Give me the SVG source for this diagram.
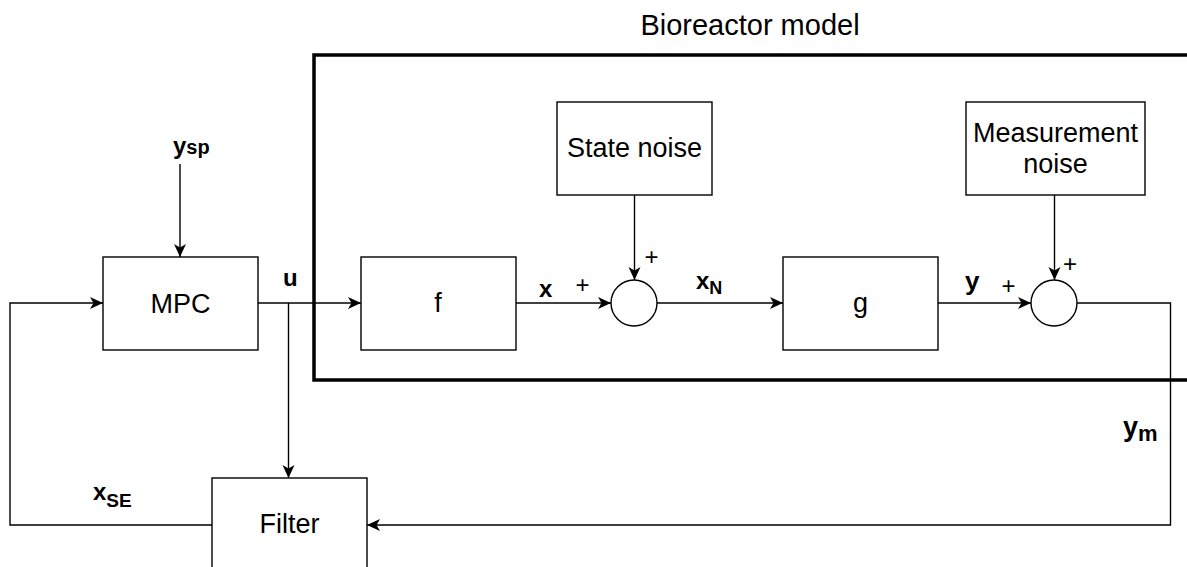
<svg xmlns="http://www.w3.org/2000/svg" width="1187" height="567" viewBox="0 0 1187 567">
<style>
.box{fill:#fff;stroke:#000;stroke-width:1.4}
.ln{fill:none;stroke:#000;stroke-width:1.4}
.lab{font-family:"Liberation Sans",Arial,sans-serif;font-size:27px;fill:#000;text-anchor:middle}
.b{font-family:"Liberation Sans",Arial,sans-serif;font-weight:bold;fill:#000}
.pl{font-family:"Liberation Sans",Arial,sans-serif;font-size:24px;fill:#000;text-anchor:middle}
</style>
<defs>
<marker id="arr" markerWidth="14" markerHeight="14" viewBox="-14 -7 14 14" refX="0" refY="0" orient="auto" markerUnits="userSpaceOnUse">
<path d="M0,0 L-13,-6 L-9.5,0 L-13,6 Z" fill="#000"/>
</marker>
</defs>
<rect width="1187" height="567" fill="#fff"/>
<g id="bioreactor">
<rect x="314" y="55" width="900" height="325" fill="none" stroke="#000" stroke-width="3.5"/>
<text class="lab" x="750" y="35" style="font-size:29px">Bioreactor model</text>
</g>
<g id="connectors">
<line class="ln" x1="180" y1="164" x2="180" y2="257" marker-end="url(#arr)"/>
<line class="ln" x1="258" y1="303" x2="361" y2="303" marker-end="url(#arr)"/>
<line class="ln" x1="288.5" y1="303" x2="288.5" y2="478" marker-end="url(#arr)"/>
<line class="ln" x1="515" y1="303" x2="611" y2="303" marker-end="url(#arr)"/>
<line class="ln" x1="634.5" y1="195" x2="634.5" y2="280" marker-end="url(#arr)"/>
<line class="ln" x1="657" y1="303" x2="783" y2="303" marker-end="url(#arr)"/>
<line class="ln" x1="938" y1="303" x2="1031" y2="303" marker-end="url(#arr)"/>
<line class="ln" x1="1054.5" y1="195" x2="1054.5" y2="280" marker-end="url(#arr)"/>
<polyline class="ln" points="1077,303 1170.5,303 1170.5,525 367,525" marker-end="url(#arr)"/>
<polyline class="ln" points="212,525 10,525 10,303 103,303" marker-end="url(#arr)"/>
<text class="b" x="173" y="154"><tspan font-size="24">y</tspan><tspan font-size="20">sp</tspan></text>
<text class="b" x="283" y="286" font-size="24">u</text>
<text class="b" x="539" y="297" font-size="24">x</text>
<text class="b" x="696" y="289" font-size="24">x<tspan font-size="18" dy="5">N</tspan></text>
<text class="b" x="965" y="290" font-size="26">y</text>
<text class="b" x="1123" y="436" font-size="27">y<tspan font-size="22" dy="5">m</tspan></text>
<text class="b" x="93" y="500" font-size="24">x<tspan font-size="19" dy="7">SE</tspan></text>
<text class="pl" x="582.5" y="293">+</text>
<text class="pl" x="651.5" y="265">+</text>
<text class="pl" x="1008.5" y="294">+</text>
<text class="pl" x="1070" y="272">+</text>
</g>
<g id="mpc">
<rect class="box" x="103" y="257" width="155" height="93"/>
<text class="lab" x="180.5" y="313">MPC</text>
</g>
<g id="f">
<rect class="box" x="361" y="257" width="155" height="93"/>
<text class="lab" x="438" y="312">f</text>
</g>
<g id="state-noise">
<rect class="box" x="557" y="102" width="155" height="93"/>
<text class="lab" x="634.5" y="157">State noise</text>
</g>
<g id="sum1">
<circle class="box" cx="634" cy="303" r="23"/>
</g>
<g id="g">
<rect class="box" x="783" y="257" width="155" height="93"/>
<text class="lab" x="860.5" y="312">g</text>
</g>
<g id="measurement-noise">
<rect class="box" x="966" y="102" width="179" height="93"/>
<text class="lab" x="1055.5" y="142">Measurement</text>
<text class="lab" x="1055.5" y="173">noise</text>
</g>
<g id="sum2">
<circle class="box" cx="1054" cy="303" r="23"/>
</g>
<g id="filter">
<rect class="box" x="212" y="478" width="155" height="93"/>
<text class="lab" x="289.5" y="533">Filter</text>
</g>
</svg>
